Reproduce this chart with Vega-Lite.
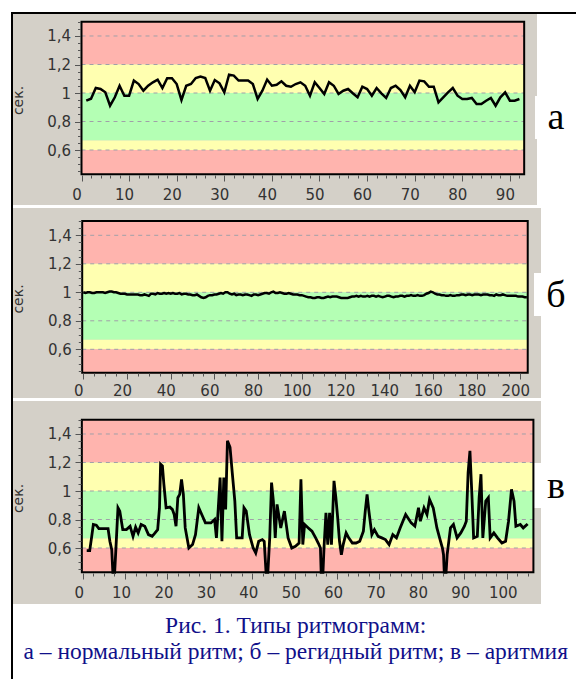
{
"$schema": "https://vega.github.io/schema/vega-lite/v6.json",
"background": "white",
"padding": {"left": 10, "top": 11, "right": 0, "bottom": 0},
"spacing": 0,
"bounds": "flush",
"config": {"view": {"stroke": null}, "axis": {"domain": false, "grid": false, "labelFont": "DejaVu Sans", "labelFontSize": 15, "labelColor": "#333", "tickColor": "#555", "titleFont": "DejaVu Sans", "titleFontSize": 14, "titleFontWeight": "normal", "titleColor": "#333", "labelOverlap": false, "labelFlush": false}},
"datasets": {
"bands": [{"lo":1.2,"hi":1.5,"zone":"red"},{"lo":1.0,"hi":1.2,"zone":"yellow"},{"lo":0.667,"hi":1.0,"zone":"green"},{"lo":0.6,"hi":0.667,"zone":"yellow"},{"lo":0.43,"hi":0.6,"zone":"red"}],
"grid": [{"g":0.6},{"g":0.8},{"g":1.0},{"g":1.2},{"g":1.4}],
"a": [{"x":1,"y":0.946},{"x":2,"y":0.96},{"x":3,"y":1.035},{"x":4,"y":1.028},{"x":5,"y":1.005},{"x":6,"y":0.911},{"x":7,"y":0.97},{"x":8,"y":1.051},{"x":9,"y":0.981},{"x":10,"y":0.981},{"x":11,"y":1.087},{"x":12,"y":1.063},{"x":13,"y":1.016},{"x":14,"y":1.051},{"x":15,"y":1.075},{"x":16,"y":1.094},{"x":17,"y":1.035},{"x":18,"y":1.103},{"x":19,"y":1.103},{"x":20,"y":1.063},{"x":21,"y":0.951},{"x":22,"y":1.051},{"x":23,"y":1.063},{"x":24,"y":1.105},{"x":25,"y":1.115},{"x":26,"y":1.105},{"x":27,"y":1.016},{"x":28,"y":1.091},{"x":29,"y":1.068},{"x":30,"y":1.005},{"x":31,"y":1.129},{"x":32,"y":1.122},{"x":33,"y":1.087},{"x":34,"y":1.087},{"x":35,"y":1.087},{"x":36,"y":1.063},{"x":37,"y":0.958},{"x":38,"y":1.016},{"x":39,"y":1.094},{"x":40,"y":1.051},{"x":41,"y":1.058},{"x":42,"y":1.082},{"x":43,"y":1.051},{"x":44,"y":1.044},{"x":45,"y":1.063},{"x":46,"y":1.075},{"x":47,"y":1.051},{"x":48,"y":0.981},{"x":49,"y":1.075},{"x":50,"y":1.035},{"x":51,"y":0.993},{"x":52,"y":1.075},{"x":53,"y":1.051},{"x":54,"y":0.993},{"x":55,"y":1.016},{"x":56,"y":1.028},{"x":57,"y":0.998},{"x":58,"y":0.97},{"x":59,"y":1.044},{"x":60,"y":1.028},{"x":61,"y":0.981},{"x":62,"y":1.035},{"x":63,"y":0.998},{"x":64,"y":0.965},{"x":65,"y":1.035},{"x":66,"y":1.051},{"x":67,"y":1.021},{"x":68,"y":0.97},{"x":69,"y":1.051},{"x":70,"y":1.005},{"x":71,"y":1.087},{"x":72,"y":1.082},{"x":73,"y":1.044},{"x":74,"y":1.044},{"x":75,"y":0.935},{"x":76,"y":0.97},{"x":77,"y":1.005},{"x":78,"y":1.035},{"x":79,"y":0.981},{"x":80,"y":0.958},{"x":81,"y":0.958},{"x":82,"y":0.965},{"x":83,"y":0.923},{"x":84,"y":0.923},{"x":85,"y":0.946},{"x":86,"y":0.965},{"x":87,"y":0.911},{"x":88,"y":0.97},{"x":89,"y":1.005},{"x":90,"y":0.946},{"x":91,"y":0.946},{"x":92,"y":0.958}],
"b": [{"x":0,"y":1.0},{"x":1,"y":0.995},{"x":2,"y":1.0},{"x":3,"y":1.0},{"x":4,"y":0.995},{"x":5,"y":0.995},{"x":6,"y":1.0},{"x":7,"y":1.0},{"x":8,"y":1.0},{"x":9,"y":1.0},{"x":10,"y":0.995},{"x":11,"y":1.0},{"x":12,"y":1.005},{"x":13,"y":1.005},{"x":14,"y":1.0},{"x":15,"y":1.0},{"x":16,"y":0.995},{"x":17,"y":0.99},{"x":18,"y":0.99},{"x":19,"y":0.99},{"x":20,"y":0.985},{"x":21,"y":0.985},{"x":22,"y":0.985},{"x":23,"y":0.985},{"x":24,"y":0.985},{"x":25,"y":0.985},{"x":26,"y":0.98},{"x":27,"y":0.98},{"x":28,"y":0.985},{"x":29,"y":0.98},{"x":30,"y":0.975},{"x":31,"y":0.99},{"x":32,"y":0.99},{"x":33,"y":0.985},{"x":34,"y":0.995},{"x":35,"y":0.99},{"x":36,"y":0.99},{"x":37,"y":0.995},{"x":38,"y":0.99},{"x":39,"y":0.995},{"x":40,"y":0.99},{"x":41,"y":0.995},{"x":42,"y":0.99},{"x":43,"y":0.99},{"x":44,"y":0.995},{"x":45,"y":0.985},{"x":46,"y":0.99},{"x":47,"y":0.99},{"x":48,"y":0.985},{"x":49,"y":0.985},{"x":50,"y":0.98},{"x":51,"y":0.98},{"x":52,"y":0.985},{"x":53,"y":0.975},{"x":54,"y":0.965},{"x":55,"y":0.96},{"x":56,"y":0.965},{"x":57,"y":0.975},{"x":58,"y":0.98},{"x":59,"y":0.98},{"x":60,"y":0.985},{"x":61,"y":0.985},{"x":62,"y":0.99},{"x":63,"y":0.995},{"x":64,"y":0.99},{"x":65,"y":1.0},{"x":66,"y":1.0},{"x":67,"y":0.99},{"x":68,"y":0.985},{"x":69,"y":0.99},{"x":70,"y":0.98},{"x":71,"y":0.985},{"x":72,"y":0.985},{"x":73,"y":0.98},{"x":74,"y":0.985},{"x":75,"y":0.985},{"x":76,"y":0.98},{"x":77,"y":0.975},{"x":78,"y":0.985},{"x":79,"y":0.985},{"x":80,"y":0.98},{"x":81,"y":0.985},{"x":82,"y":0.99},{"x":83,"y":0.995},{"x":84,"y":0.995},{"x":85,"y":0.99},{"x":86,"y":1.0},{"x":87,"y":1.005},{"x":88,"y":0.995},{"x":89,"y":0.995},{"x":90,"y":1.0},{"x":91,"y":0.995},{"x":92,"y":0.99},{"x":93,"y":0.99},{"x":94,"y":0.995},{"x":95,"y":0.99},{"x":96,"y":0.985},{"x":97,"y":0.985},{"x":98,"y":0.985},{"x":99,"y":0.98},{"x":100,"y":0.98},{"x":101,"y":0.975},{"x":102,"y":0.97},{"x":103,"y":0.965},{"x":104,"y":0.965},{"x":105,"y":0.96},{"x":106,"y":0.96},{"x":107,"y":0.965},{"x":108,"y":0.965},{"x":109,"y":0.96},{"x":110,"y":0.96},{"x":111,"y":0.965},{"x":112,"y":0.97},{"x":113,"y":0.965},{"x":114,"y":0.97},{"x":115,"y":0.97},{"x":116,"y":0.97},{"x":117,"y":0.965},{"x":118,"y":0.96},{"x":119,"y":0.96},{"x":120,"y":0.96},{"x":121,"y":0.96},{"x":122,"y":0.965},{"x":123,"y":0.97},{"x":124,"y":0.97},{"x":125,"y":0.975},{"x":126,"y":0.97},{"x":127,"y":0.975},{"x":128,"y":0.97},{"x":129,"y":0.97},{"x":130,"y":0.975},{"x":131,"y":0.97},{"x":132,"y":0.975},{"x":133,"y":0.975},{"x":134,"y":0.97},{"x":135,"y":0.975},{"x":136,"y":0.97},{"x":137,"y":0.965},{"x":138,"y":0.97},{"x":139,"y":0.975},{"x":140,"y":0.975},{"x":141,"y":0.97},{"x":142,"y":0.965},{"x":143,"y":0.97},{"x":144,"y":0.97},{"x":145,"y":0.975},{"x":146,"y":0.975},{"x":147,"y":0.97},{"x":148,"y":0.975},{"x":149,"y":0.975},{"x":150,"y":0.98},{"x":151,"y":0.975},{"x":152,"y":0.975},{"x":153,"y":0.98},{"x":154,"y":0.975},{"x":155,"y":0.975},{"x":156,"y":0.98},{"x":157,"y":0.99},{"x":158,"y":0.995},{"x":159,"y":1.005},{"x":160,"y":1.0},{"x":161,"y":0.99},{"x":162,"y":0.985},{"x":163,"y":0.985},{"x":164,"y":0.98},{"x":165,"y":0.98},{"x":166,"y":0.975},{"x":167,"y":0.975},{"x":168,"y":0.98},{"x":169,"y":0.975},{"x":170,"y":0.975},{"x":171,"y":0.98},{"x":172,"y":0.98},{"x":173,"y":0.985},{"x":174,"y":0.985},{"x":175,"y":0.98},{"x":176,"y":0.985},{"x":177,"y":0.985},{"x":178,"y":0.98},{"x":179,"y":0.985},{"x":180,"y":0.985},{"x":181,"y":0.985},{"x":182,"y":0.98},{"x":183,"y":0.985},{"x":184,"y":0.985},{"x":185,"y":0.985},{"x":186,"y":0.98},{"x":187,"y":0.98},{"x":188,"y":0.975},{"x":189,"y":0.985},{"x":190,"y":0.98},{"x":191,"y":0.98},{"x":192,"y":0.985},{"x":193,"y":0.98},{"x":194,"y":0.975},{"x":195,"y":0.975},{"x":196,"y":0.975},{"x":197,"y":0.975},{"x":198,"y":0.975},{"x":199,"y":0.97},{"x":200,"y":0.97},{"x":201,"y":0.97},{"x":202,"y":0.965},{"x":203,"y":0.965}],
"c": [{"x":0.95,"y":0.581},{"x":1.65,"y":0.581},{"x":2.08,"y":0.671},{"x":2.51,"y":0.765},{"x":3.21,"y":0.76},{"x":3.81,"y":0.736},{"x":5.98,"y":0.736},{"x":6.41,"y":0.647},{"x":6.85,"y":0.588},{"x":7.11,"y":0.43},{"x":7.54,"y":0.43},{"x":7.8,"y":0.576},{"x":8.32,"y":0.882},{"x":8.75,"y":0.859},{"x":9.45,"y":0.729},{"x":10.31,"y":0.729},{"x":11.18,"y":0.753},{"x":11.87,"y":0.682},{"x":12.48,"y":0.746},{"x":13.08,"y":0.706},{"x":13.78,"y":0.765},{"x":14.64,"y":0.753},{"x":15.51,"y":0.694},{"x":16.38,"y":0.682},{"x":17.07,"y":0.706},{"x":17.68,"y":0.729},{"x":18.11,"y":0.882},{"x":18.37,"y":1.188},{"x":18.8,"y":1.176},{"x":19.15,"y":1.047},{"x":19.67,"y":0.882},{"x":20.54,"y":0.887},{"x":21.14,"y":0.871},{"x":21.58,"y":0.835},{"x":22.01,"y":0.753},{"x":22.44,"y":0.953},{"x":22.88,"y":0.976},{"x":23.31,"y":1.082},{"x":23.74,"y":0.976},{"x":24.18,"y":0.741},{"x":25.04,"y":0.6},{"x":25.91,"y":0.624},{"x":26.6,"y":0.694},{"x":27.38,"y":0.882},{"x":28.08,"y":0.835},{"x":28.94,"y":0.776},{"x":30.24,"y":0.776},{"x":31.11,"y":0.8},{"x":31.54,"y":0.671},{"x":31.98,"y":0.882},{"x":32.41,"y":1.094},{"x":32.84,"y":0.647},{"x":33.28,"y":1.094},{"x":33.71,"y":0.871},{"x":34.14,"y":1.353},{"x":34.75,"y":1.306},{"x":35.27,"y":1.129},{"x":35.88,"y":0.929},{"x":36.31,"y":0.671},{"x":37.61,"y":0.671},{"x":38.04,"y":0.882},{"x":38.56,"y":0.859},{"x":39.34,"y":0.694},{"x":40.21,"y":0.6},{"x":40.81,"y":0.565},{"x":41.51,"y":0.647},{"x":42.37,"y":0.659},{"x":42.81,"y":0.647},{"x":43.24,"y":0.43},{"x":43.67,"y":0.43},{"x":44.11,"y":0.671},{"x":44.54,"y":1.059},{"x":44.97,"y":0.929},{"x":45.41,"y":0.671},{"x":45.84,"y":0.906},{"x":46.71,"y":0.741},{"x":47.57,"y":0.859},{"x":48.44,"y":0.671},{"x":49.31,"y":0.6},{"x":50.17,"y":0.612},{"x":51.04,"y":0.635},{"x":51.47,"y":1.082},{"x":51.91,"y":0.624},{"x":52.34,"y":0.765},{"x":53.21,"y":0.741},{"x":54.07,"y":0.718},{"x":54.94,"y":0.671},{"x":55.55,"y":0.635},{"x":56.07,"y":0.6},{"x":56.24,"y":0.43},{"x":56.67,"y":0.43},{"x":56.93,"y":0.612},{"x":57.37,"y":0.847},{"x":57.8,"y":0.624},{"x":58.23,"y":0.847},{"x":58.67,"y":0.624},{"x":59.27,"y":1.071},{"x":59.71,"y":0.953},{"x":60.14,"y":0.812},{"x":60.57,"y":0.647},{"x":61.01,"y":0.553},{"x":61.44,"y":0.624},{"x":62.13,"y":0.706},{"x":62.74,"y":0.671},{"x":63.6,"y":0.635},{"x":64.47,"y":0.635},{"x":65.34,"y":0.647},{"x":66.2,"y":0.718},{"x":66.64,"y":0.859},{"x":67.07,"y":0.976},{"x":67.5,"y":0.859},{"x":68.2,"y":0.694},{"x":68.8,"y":0.729},{"x":69.67,"y":0.682},{"x":70.54,"y":0.671},{"x":71.4,"y":0.659},{"x":72.27,"y":0.624},{"x":73.14,"y":0.694},{"x":74.0,"y":0.671},{"x":74.87,"y":0.741},{"x":76.17,"y":0.835},{"x":77.47,"y":0.776},{"x":78.34,"y":0.753},{"x":79.2,"y":0.882},{"x":79.64,"y":0.788},{"x":80.5,"y":0.882},{"x":81.2,"y":0.835},{"x":81.8,"y":0.941},{"x":82.67,"y":0.882},{"x":83.54,"y":0.741},{"x":84.4,"y":0.647},{"x":84.84,"y":0.6},{"x":85.1,"y":0.553},{"x":85.27,"y":0.43},{"x":85.7,"y":0.43},{"x":85.96,"y":0.553},{"x":86.74,"y":0.741},{"x":87.44,"y":0.765},{"x":88.3,"y":0.671},{"x":89.17,"y":0.706},{"x":90.03,"y":0.753},{"x":90.47,"y":0.788},{"x":90.9,"y":1.129},{"x":91.33,"y":1.282},{"x":91.77,"y":0.988},{"x":92.2,"y":0.671},{"x":93.07,"y":0.682},{"x":93.5,"y":0.953},{"x":93.93,"y":1.118},{"x":94.37,"y":0.671},{"x":95.06,"y":0.929},{"x":95.67,"y":0.953},{"x":96.1,"y":0.671},{"x":96.97,"y":0.706},{"x":97.83,"y":0.671},{"x":98.87,"y":0.635},{"x":99.74,"y":0.647},{"x":100.43,"y":0.788},{"x":101.13,"y":1.012},{"x":101.73,"y":0.929},{"x":102.17,"y":0.753},{"x":103.21,"y":0.765},{"x":103.9,"y":0.741},{"x":104.94,"y":0.769}]
},
"vconcat": [
{
"width": 566, "height": 193,
"resolve": {"axis": {"x": "independent", "y": "independent"}},
"layer": [
{"data": {"values": [{}]}, "mark": {"type": "rect", "color": "#d4d0c8"}, "encoding": {"x": {"datum": -14.391, "type": "quantitative", "axis": null}, "x2": {"datum": 95.693}, "y": {"datum": 0.21404, "type": "quantitative", "axis": null}, "y2": {"datum": 1.5544}}},
{"data": {"values": [{}]}, "mark": {"type": "rect", "color": "white"}, "encoding": {"x": {"datum": 95.27, "type": "quantitative", "axis": null}, "x2": {"datum": 95.9}, "y": {"datum": 0.677, "type": "quantitative", "axis": null}, "y2": {"datum": 0.979}}},
{"data": {"name": "bands"}, "mark": {"type": "rect"}, "encoding": {"x": {"datum": 0, "type": "quantitative", "axis": null}, "x2": {"datum": 93}, "y": {"field": "lo", "type": "quantitative", "axis": null}, "y2": {"field": "hi"}, "color": {"field": "zone", "type": "nominal", "scale": {"domain": ["red", "yellow", "green"], "range": ["#ffb4ae", "#ffffb0", "#b4ffb4"]}, "legend": null}}},
{"data": {"name": "grid"}, "mark": {"type": "rule", "color": "#a0a0a8", "strokeDash": [4, 4], "strokeWidth": 1}, "encoding": {"x": {"datum": 0, "type": "quantitative", "axis": null}, "x2": {"datum": 93}, "y": {"field": "g", "type": "quantitative", "axis": null}}},
{"data": {"values": [{}]}, "mark": {"type": "rect", "filled": false, "color": "black", "strokeWidth": 2}, "encoding": {"x": {"datum": 0, "type": "quantitative", "axis": null}, "x2": {"datum": 93}, "y": {"datum": 0.43, "type": "quantitative", "axis": null}, "y2": {"datum": 1.5}}},
{"data": {"name": "a"}, "mark": {"type": "line", "color": "black", "strokeWidth": 2.5}, "encoding": {
  "x": {"field": "x", "type": "quantitative", "scale": {"domain": [-14.811, 104.097], "nice": false, "zero": false}, "axis": {"zindex": 2, "orient": "bottom", "offset": -30, "values": [0,2,4,6,8,10,12,14,16,18,20,22,24,26,28,30,32,34,36,38,40,42,44,46,48,50,52,54,56,58,60,62,64,66,68,70,72,74,76,78,80,82,84,86,88,90,92], "labelExpr": "datum.value % 10 === 0 ? datum.label : ''", "tickSize": {"condition": {"test": "datum.value % 10 === 0", "value": 6}, "value": 3}, "labelPadding": 6, "labelOffset": -5, "title": null}},
  "y": {"field": "y", "type": "quantitative", "scale": {"domain": [0.21404, 1.56842], "nice": false, "zero": false}, "axis": {"zindex": 2, "orient": "left", "offset": -69.5, "values": [0.45,0.5,0.55,0.6,0.65,0.7,0.75,0.8,0.85,0.9,0.95,1,1.05,1.1,1.15,1.2,1.25,1.3,1.35,1.4,1.45,1.5], "labelExpr": "abs(datum.value*5 - round(datum.value*5)) < 0.001 ? replace(format(datum.value, '.1~f'), '.', ',') : ''", "tickSize": {"condition": {"test": "abs(datum.value*5 - round(datum.value*5)) < 0.001", "value": 6}, "value": 3}, "labelPadding": 4, "title": "сек.", "titleX": -62, "titleY": 88, "titleAngle": -90, "titleAlign": "center", "titleBaseline": "middle"}}}},
{"data": {"values": [{}]}, "mark": {"type": "rule", "color": "black", "strokeWidth": 2}, "encoding": {"x": {"datum": -14.601, "type": "quantitative", "axis": null}}},
{"data": {"values": [{}]}, "mark": {"type": "rule", "color": "black", "strokeWidth": 2}, "encoding": {"y": {"datum": 1.5614, "type": "quantitative", "axis": null}}},
{"data": {"values": [{}]}, "mark": {"type": "text", "font": "Liberation Serif", "fontSize": 38, "align": "center", "baseline": "alphabetic", "color": "black"}, "encoding": {"x": {"datum": 99.68, "type": "quantitative", "axis": null}, "y": {"datum": 0.7453, "type": "quantitative", "axis": null}, "text": {"value": "а"}}}
]
},
{
"width": 566, "height": 193,
"resolve": {"axis": {"x": "independent", "y": "independent"}},
"layer": [
{"data": {"values": [{}]}, "mark": {"type": "rect", "color": "#d4d0c8"}, "encoding": {"x": {"datum": -32.174, "type": "quantitative", "axis": null}, "x2": {"datum": 209.474}, "y": {"datum": 0.25825, "type": "quantitative", "axis": null}, "y2": {"datum": 1.59158}}},
{"data": {"values": [{}]}, "mark": {"type": "rect", "color": "white"}, "encoding": {"x": {"datum": 206.27, "type": "quantitative", "axis": null}, "x2": {"datum": 209.93}, "y": {"datum": 0.8337, "type": "quantitative", "axis": null}, "y2": {"datum": 1.1354}}},
{"data": {"name": "bands"}, "mark": {"type": "rect"}, "encoding": {"x": {"datum": -0.5, "type": "quantitative", "axis": null}, "x2": {"datum": 203.4}, "y": {"field": "lo", "type": "quantitative", "axis": null}, "y2": {"field": "hi"}, "color": {"field": "zone", "type": "nominal", "scale": {"domain": ["red", "yellow", "green"], "range": ["#ffb4ae", "#ffffb0", "#b4ffb4"]}, "legend": null}}},
{"data": {"name": "grid"}, "mark": {"type": "rule", "color": "#a0a0a8", "strokeDash": [4, 4], "strokeWidth": 1}, "encoding": {"x": {"datum": -0.5, "type": "quantitative", "axis": null}, "x2": {"datum": 203.4}, "y": {"field": "g", "type": "quantitative", "axis": null}}},
{"data": {"values": [{}]}, "mark": {"type": "rect", "filled": false, "color": "black", "strokeWidth": 2}, "encoding": {"x": {"datum": -0.5, "type": "quantitative", "axis": null}, "x2": {"datum": 203.4}, "y": {"datum": 0.435, "type": "quantitative", "axis": null}, "y2": {"datum": 1.5}}},
{"data": {"name": "b"}, "mark": {"type": "line", "color": "black", "strokeWidth": 2.5}, "encoding": {
  "x": {"field": "x", "type": "quantitative", "scale": {"domain": [-33.089, 225.95], "nice": false, "zero": false}, "axis": {"zindex": 2, "orient": "bottom", "offset": -25, "values": [0,5,10,15,20,25,30,35,40,45,50,55,60,65,70,75,80,85,90,95,100,105,110,115,120,125,130,135,140,145,150,155,160,165,170,175,180,185,190,195,200], "labelExpr": "datum.value % 20 === 0 ? datum.label : ''", "tickSize": {"condition": {"test": "datum.value % 20 === 0", "value": 6}, "value": 3}, "labelPadding": 4, "labelOffset": -5, "title": null}},
  "y": {"field": "y", "type": "quantitative", "scale": {"domain": [0.25825, 1.61263], "nice": false, "zero": false}, "axis": {"zindex": 2, "orient": "left", "offset": -70.3, "values": [0.45,0.5,0.55,0.6,0.65,0.7,0.75,0.8,0.85,0.9,0.95,1,1.05,1.1,1.15,1.2,1.25,1.3,1.35,1.4,1.45,1.5], "labelExpr": "abs(datum.value*5 - round(datum.value*5)) < 0.001 ? replace(format(datum.value, '.1~f'), '.', ',') : ''", "tickSize": {"condition": {"test": "abs(datum.value*5 - round(datum.value*5)) < 0.001", "value": 6}, "value": 3}, "labelPadding": 4, "title": "сек.", "titleX": -62.8, "titleY": 93.5, "titleAngle": -90, "titleAlign": "center", "titleBaseline": "middle"}}}},
{"data": {"values": [{}]}, "mark": {"type": "rule", "color": "black", "strokeWidth": 2}, "encoding": {"x": {"datum": -32.632, "type": "quantitative", "axis": null}}},
{"data": {"values": [{}]}, "mark": {"type": "text", "font": "Liberation Serif", "fontSize": 38, "align": "center", "baseline": "alphabetic", "color": "black"}, "encoding": {"x": {"datum": 216.3, "type": "quantitative", "axis": null}, "y": {"datum": 0.897, "type": "quantitative", "axis": null}, "text": {"value": "б"}}}
]
},
{
"width": 566, "height": 206,
"resolve": {"axis": {"x": "independent", "y": "independent"}},
"layer": [
{"data": {"values": [{}]}, "mark": {"type": "rect", "color": "#d4d0c8"}, "encoding": {"x": {"datum": -16.439, "type": "quantitative", "axis": null}, "x2": {"datum": 108.09}, "y": {"datum": 0.20702, "type": "quantitative", "axis": null}, "y2": {"datum": 1.63158}}},
{"data": {"values": [{}]}, "mark": {"type": "rect", "color": "white"}, "encoding": {"x": {"datum": 106.2, "type": "quantitative", "axis": null}, "x2": {"datum": 108.33}, "y": {"datum": 0.8807, "type": "quantitative", "axis": null}, "y2": {"datum": 1.1965}}},
{"data": {"name": "bands"}, "mark": {"type": "rect"}, "encoding": {"x": {"datum": -0.2, "type": "quantitative", "axis": null}, "x2": {"datum": 106.3}, "y": {"field": "lo", "type": "quantitative", "axis": null}, "y2": {"field": "hi"}, "color": {"field": "zone", "type": "nominal", "scale": {"domain": ["red", "yellow", "green"], "range": ["#ffb4ae", "#ffffb0", "#b4ffb4"]}, "legend": null}}},
{"data": {"name": "grid"}, "mark": {"type": "rule", "color": "#a0a0a8", "strokeDash": [4, 4], "strokeWidth": 1}, "encoding": {"x": {"datum": -0.2, "type": "quantitative", "axis": null}, "x2": {"datum": 106.3}, "y": {"field": "g", "type": "quantitative", "axis": null}}},
{"data": {"values": [{}]}, "mark": {"type": "rect", "filled": false, "color": "black", "strokeWidth": 2}, "encoding": {"x": {"datum": -0.2, "type": "quantitative", "axis": null}, "x2": {"datum": 106.3}, "y": {"datum": 0.43, "type": "quantitative", "axis": null}, "y2": {"datum": 1.5}}},
{"data": {"name": "c"}, "mark": {"type": "line", "color": "black", "strokeWidth": 2.8}, "encoding": {
  "x": {"field": "x", "type": "quantitative", "scale": {"domain": [-16.91, 116.58], "nice": false, "zero": false}, "axis": {"zindex": 2, "orient": "bottom", "offset": -31, "values": [0,2.5,5,7.5,10,12.5,15,17.5,20,22.5,25,27.5,30,32.5,35,37.5,40,42.5,45,47.5,50,52.5,55,57.5,60,62.5,65,67.5,70,72.5,75,77.5,80,82.5,85,87.5,90,92.5,95,97.5,100,102.5,105], "labelExpr": "datum.value % 10 === 0 ? datum.label : ''", "tickSize": {"condition": {"test": "datum.value % 10 === 0", "value": 6}, "value": 3}, "labelPadding": 6, "labelOffset": -4, "title": null}},
  "y": {"field": "y", "type": "quantitative", "scale": {"domain": [0.20702, 1.65263], "nice": false, "zero": false}, "axis": {"zindex": 2, "orient": "left", "offset": -70, "values": [0.45,0.5,0.55,0.6,0.65,0.7,0.75,0.8,0.85,0.9,0.95,1,1.05,1.1,1.15,1.2,1.25,1.3,1.35,1.4,1.45,1.5], "labelExpr": "abs(datum.value*5 - round(datum.value*5)) < 0.001 ? replace(format(datum.value, '.1~f'), '.', ',') : ''", "tickSize": {"condition": {"test": "abs(datum.value*5 - round(datum.value*5)) < 0.001", "value": 6}, "value": 3}, "labelPadding": 4, "title": "сек.", "titleX": -62.5, "titleY": 100, "titleAngle": -90, "titleAlign": "center", "titleBaseline": "middle"}}}},
{"data": {"values": [{}]}, "mark": {"type": "rule", "color": "black", "strokeWidth": 2}, "encoding": {"x": {"datum": -16.675, "type": "quantitative", "axis": null}}},
{"data": {"values": [{}]}, "mark": {"type": "text", "font": "Liberation Serif", "fontSize": 38, "align": "center", "baseline": "alphabetic", "color": "black"}, "encoding": {"x": {"datum": 111.6, "type": "quantitative", "axis": null}, "y": {"datum": 0.953, "type": "quantitative", "axis": null}, "text": {"value": "в"}}}
]
},
{
"width": 566, "height": 76,
"layer": [
{"data": {"values": [{}]}, "mark": {"type": "rule", "color": "black", "strokeWidth": 2}, "encoding": {"x": {"datum": 0.00177, "type": "quantitative", "scale": {"domain": [0, 1], "nice": false, "zero": false}, "axis": null}}},
{"data": {"values": [{"line": "Рис. 1. Типы ритмограмм:", "pos": 1}, {"line": "а – нормальный ритм; б – регидный ритм; в – аритмия", "pos": 2}]}, "mark": {"type": "text", "font": "Liberation Serif", "fontSize": 23.5, "color": "#10108a", "align": "center", "baseline": "alphabetic"}, "encoding": {"x": {"datum": 0.503, "type": "quantitative", "axis": null}, "y": {"field": "pos", "type": "quantitative", "scale": {"domain": [-0.099, 2.802], "reverse": true, "nice": false, "zero": false}, "axis": null}, "text": {"field": "line"}}}
]
}
]
}
